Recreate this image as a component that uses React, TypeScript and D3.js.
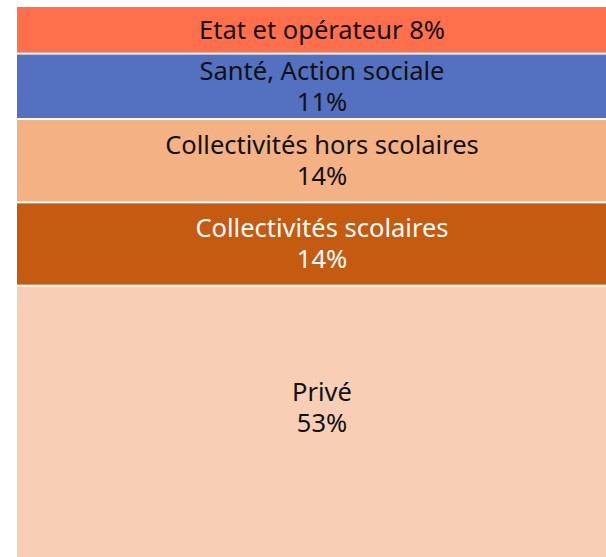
import React, { useEffect, useRef } from "react";
import * as d3 from "d3";

const categories = [
  "Etat et opérateur",
  "Santé, Action sociale",
  "Collectivités hors scolaires",
  "Collectivités scolaires",
  "Privé",
];
const shares = [8, 11, 14, 14, 53];
const colors = ["#FF6F4C", "#5470C0", "#F4B183", "#C55A11", "#F8CFB4"];
const textColors = ["#111", "#111", "#111", "#fff", "#111"];

const width = 606, height = 557;

export default function App() {
  const ref = useRef<SVGSVGElement>(null);

  useEffect(() => {
    const svg = d3.select(ref.current);
    svg.selectAll("*").remove();

    const root = d3
      .hierarchy({ children: categories.map((c, i) => ({ name: c, value: shares[i], i })) } as any)
      .sum((d: any) => d.value || 0);

    // one slice column, cropped on the right and bottom like the original
    d3.treemap().tile(d3.treemapSlice).size([610, 593]).paddingInner(2)(root as any);

    const g = svg.append("g").attr("transform", "translate(17,7)");
    const cells = g
      .selectAll("g.cell")
      .data(root.leaves() as any[])
      .enter()
      .append("g")
      .attr("class", "cell");

    cells
      .append("rect")
      .attr("x", (d) => d.x0)
      .attr("y", (d) => d.y0)
      .attr("width", (d) => d.x1 - d.x0)
      .attr("height", (d) => d.y1 - d.y0)
      .attr("fill", (d) => colors[d.data.i]);

    cells.each(function (d: any) {
      const h = d.y1 - d.y0;
      const cx = d.x0 + 305;
      const cy = d.y0 + Math.min(h / 2, 121);
      const lines = h < 50
        ? [d.data.name + " " + d.data.value + "%"]
        : [d.data.name, d.data.value + "%"];
      const lh = 31;
      lines.forEach((l, k) => {
        d3.select(this)
          .append("text")
          .attr("text-anchor", "middle")
          .attr("fill", textColors[d.data.i])
          .style("font-family", "'Noto Sans', sans-serif")
          .style("font-size", "25.5px")
          .attr("x", cx)
          .attr("y", cy + (k - (lines.length - 1) / 2) * lh)
          .attr("dy", "0.35em")
          .text(l);
      });
    });
  }, []);

  return (
    <svg
      ref={ref}
      width={width}
      height={height}
      style={{ position: "absolute", left: 0, top: 0, overflow: "hidden", background: "#fff" }}
    />
  );
}
